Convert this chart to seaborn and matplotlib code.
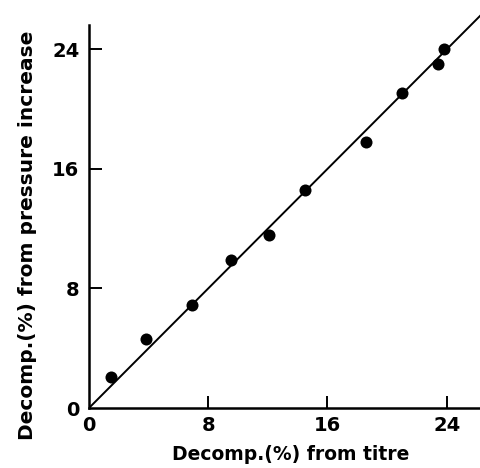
import matplotlib
matplotlib.use("Agg")
import matplotlib.pyplot as plt
import seaborn as sns
import pandas as pd

# Data
titre = [1.5, 3.8, 6.9, 9.5, 12.1, 14.5, 18.6, 21.0, 23.4, 23.8]
pressure = [2.05, 4.6, 6.9, 9.9, 11.6, 14.6, 17.8, 21.1, 23.0, 24.0]
fit_x = [0, 27]
fit_y = [0, 27]
ticks = [0, 8, 16, 24]
tick_labels = ["0", "8", "16", "24"]

sns.set_theme(style="white")
plt.rcParams['font.family'] = ['DejaVu Sans']
plt.rcParams['text.color'] = 'black'
plt.rcParams['xtick.color'] = 'black'
plt.rcParams['ytick.color'] = 'black'

df = pd.DataFrame({"titre": titre, "pressure": pressure})
fit = pd.DataFrame({"x": fit_x, "y": fit_y})

fig = plt.figure(figsize=(4.81, 4.68), dpi=100)
ax = fig.add_axes([89/481, 60/468, 392/481, 408/468])

sns.lineplot(data=fit, x="x", y="y", ax=ax, color="black", linewidth=1.4)
sns.scatterplot(data=df, x="titre", y="pressure", ax=ax, color="black",
                s=75, edgecolor="black", linewidth=0, zorder=3)

ax.set_xlim(0, 26.3)
ax.set_ylim(0, 27.3)
for side in ["top", "right"]:
    ax.spines[side].set_visible(False)
for side in ["left", "bottom"]:
    ax.spines[side].set_linewidth(1.8)
    ax.spines[side].set_color("black")
ax.spines["left"].set_bounds(0, 25.6)

ax.set_xticks(ticks)
ax.set_yticks(ticks)
ax.set_xticklabels(tick_labels, fontsize=14, fontweight="bold", color="black")
ax.set_yticklabels(tick_labels, fontsize=14, fontweight="bold", color="black")
ax.tick_params(axis="both", which="major", direction="in", length=9, width=1.4,
               color="black", bottom=True, left=True)
ax.tick_params(axis="x", pad=6)
ax.tick_params(axis="y", pad=7)
ax.xaxis.get_major_ticks()[0].tick1line.set_visible(False)
ax.yaxis.get_major_ticks()[0].tick1line.set_visible(False)

ax.set_xlabel("")
ax.set_ylabel("")
fig.text(291/481, 1 - 455/468, "Decomp.(%) from titre", ha="center", va="center",
         fontsize=13.5, fontweight="bold", color="black")
fig.text(28/481, 1 - 235/468, "Decomp.(%) from pressure increase", ha="center",
         va="center", rotation=90, fontsize=14.5, fontweight="bold", color="black")

fig.savefig("out.png", dpi=100)
